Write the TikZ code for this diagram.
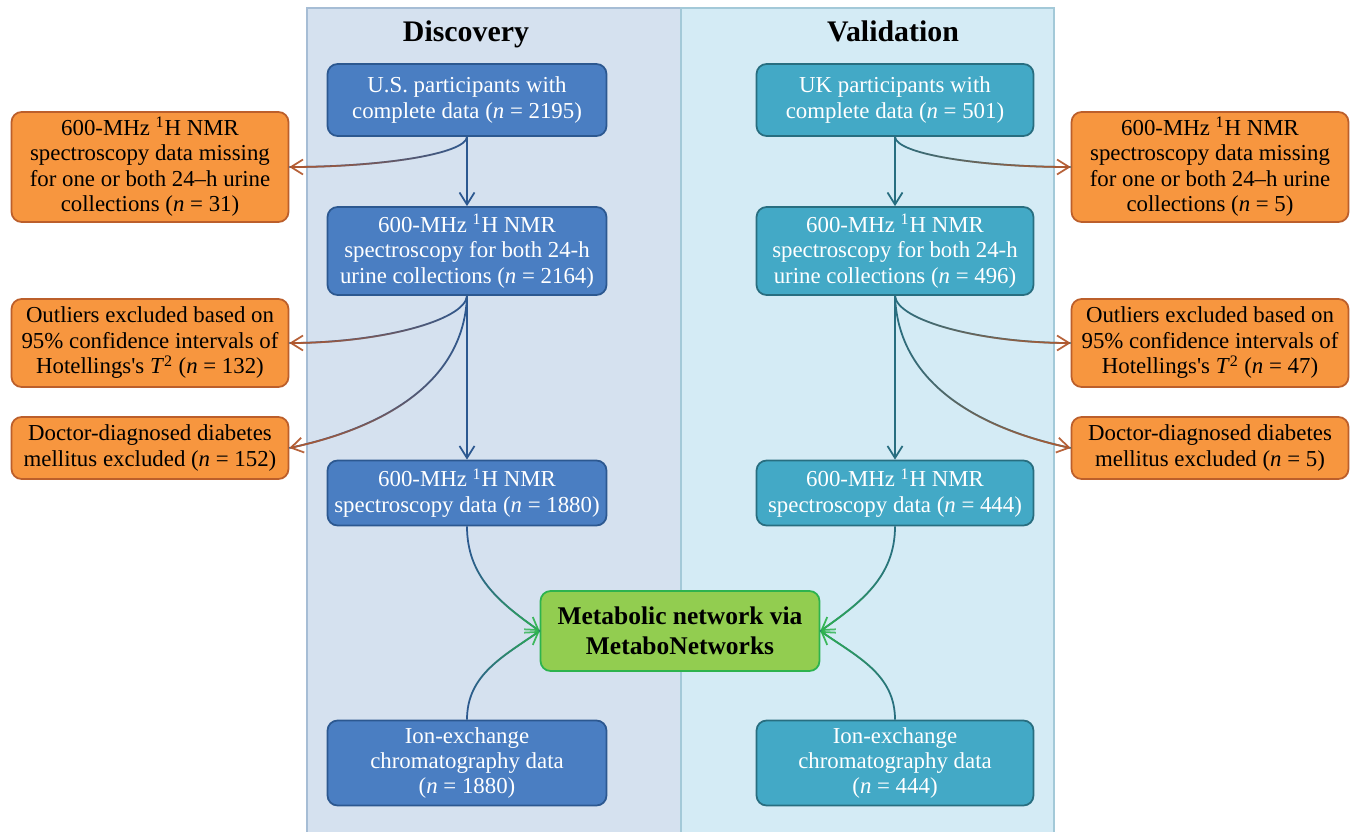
\documentclass[tikz,border=0pt]{standalone}
\usepackage{fontspec}
\setmainfont{Liberation Serif}
\usetikzlibrary{arrows.meta,fadings}

\definecolor{panDfill}{HTML}{D5E1EF}
\definecolor{panDline}{HTML}{A6BDD5}
\definecolor{panVfill}{HTML}{D4EBF5}
\definecolor{panVline}{HTML}{A3C9D8}
\definecolor{dfill}{HTML}{4A7EC2}
\definecolor{dline}{HTML}{2C5890}
\definecolor{vfill}{HTML}{43A9C6}
\definecolor{vline}{HTML}{286E80}
\definecolor{ofill}{HTML}{F7963F}
\definecolor{oline}{HTML}{BC5F2B}
\definecolor{oarrow}{HTML}{B3592E}
\definecolor{gfill}{HTML}{92CD50}
\definecolor{gline}{HTML}{2DB34E}

% opaque on the named side
\tikzfading[name=opaqueleft, left color=transparent!0, right color=transparent!100]
\tikzfading[name=opaqueright, left color=transparent!100, right color=transparent!0]

\begin{document}
\begin{tikzpicture}[x=0.02cm, y=0.02cm,
    box/.style={rounded corners=0.2cm, line width=1pt, align=center, text=white,
      font=\fontsize{13}{14.5}\selectfont, inner sep=2pt},
    dbox/.style={box, fill=dfill, draw=dline, minimum width=5.58cm},
    vbox/.style={box, fill=vfill, draw=vline, minimum width=5.54cm},
    obox/.style={box, fill=ofill, draw=oline, text=black, minimum width=5.54cm},
    netbox/.style={box, fill=gfill, draw=gline, text=black, minimum width=5.58cm,
      minimum height=1.6cm, font=\fontsize{14.5}{17}\selectfont\bfseries},
    title/.style={anchor=base, font=\fontsize{17}{20}\selectfont\bfseries},
    tip/.style={-{Straight Barb[length=2.4mm, width=3mm]}},
    flowD/.style={draw=dline, line width=1pt, tip},
    flowV/.style={draw=vline, line width=1pt, tip},
    exclD/.style={draw=dline, line width=1pt,
      postaction={draw=oarrow, path fading=opaqueleft, tip}},
    exclV/.style={draw=vline, line width=1pt,
      postaction={draw=oarrow, path fading=opaqueright, tip}},
    joinD/.style={draw=dline, line width=1pt,
      postaction={draw=gline, path fading=opaqueright, tip}},
    joinV/.style={draw=vline, line width=1pt,
      postaction={draw=gline, path fading=opaqueleft, tip}}]

    % Background panels:
    \useasboundingbox (0, 0) rectangle (1361, -831);
    \fill[white] (0, 0) rectangle (1361, -831);
    \draw[fill=panDfill, draw=panDline, line width=1pt] (307, -8) rectangle (681, -840);
    \draw[fill=panVfill, draw=panVline, line width=1pt] (681, -8) rectangle (1054, -840);
    \node[title] (TD) at (466, -42) {Discovery};
    \node[title] (TV) at (893, -42) {Validation};

    % Discovery column:
    \node[dbox, minimum height=1.44cm] (D1) at (467, -100) {U.S. participants with\\complete data (\textit{n} = 2195)};
    \node[dbox, minimum height=1.76cm] (D2) at (467, -251) {600-MHz \textsuperscript{1}H NMR\\spectroscopy for both 24-h\\urine collections (\textit{n} = 2164)};
    \node[dbox, minimum height=1.3cm] (D3) at (467, -493) {600-MHz \textsuperscript{1}H NMR\\spectroscopy data (\textit{n} = 1880)};
    \node[dbox, minimum height=1.7cm] (D4) at (467, -763) {Ion-exchange\\chromatography data\\(\textit{n} = 1880)};

    % Validation column:
    \node[vbox, minimum height=1.44cm] (V1) at (895, -100) {UK participants with\\complete data (\textit{n} = 501)};
    \node[vbox, minimum height=1.76cm] (V2) at (895, -251) {600-MHz \textsuperscript{1}H NMR\\spectroscopy for both 24-h\\urine collections (\textit{n} = 496)};
    \node[vbox, minimum height=1.3cm] (V3) at (895, -493) {600-MHz \textsuperscript{1}H NMR\\spectroscopy data (\textit{n} = 444)};
    \node[vbox, minimum height=1.7cm] (V4) at (895, -763) {Ion-exchange\\chromatography data\\(\textit{n} = 444)};

    % Exclusions:
    \node[obox, minimum height=2.2cm] (L1) at (150, -167) {600-MHz \textsuperscript{1}H NMR\\spectroscopy data missing\\for one or both 24--h urine\\collections (\textit{n} = 31)};
    \node[obox, minimum height=1.76cm] (L2) at (150, -343) {Outliers excluded based on\\95\% confidence intervals of\\Hotellings\textquotesingle s \textit{T}\textsuperscript{2} (\textit{n} = 132)};
    \node[obox, minimum height=1.24cm] (L3) at (150, -448) {Doctor-diagnosed diabetes\\mellitus excluded (\textit{n} = 152)};
    \node[obox, minimum height=2.2cm] (R1) at (1210, -167) {600-MHz \textsuperscript{1}H NMR\\spectroscopy data missing\\for one or both 24--h urine\\collections (\textit{n} = 5)};
    \node[obox, minimum height=1.76cm] (R2) at (1210, -343) {Outliers excluded based on\\95\% confidence intervals of\\Hotellings\textquotesingle s \textit{T}\textsuperscript{2} (\textit{n} = 47)};
    \node[obox, minimum height=1.24cm] (R3) at (1210, -448) {Doctor-diagnosed diabetes\\mellitus excluded (\textit{n} = 5)};

    \node[netbox] (net) at (680, -631) {Metabolic network via\\MetaboNetworks};

    % Arrows:
    \draw[flowD] (D1) -- (D2);
    \draw[flowD] (D2) -- (D3);
    \draw[flowV] (V1) -- (V2);
    \draw[flowV] (V2) -- (V3);
    \draw[exclD] (D1.south) to[out=-95, in=0, out distance=0.35cm, in distance=1.8cm] (L1.east);
    \draw[exclD] (D2.south) to[out=-95, in=0, out distance=0.5cm, in distance=1.8cm] (L2.east);
    \draw[exclD] (D2.south) to[out=-92, in=12, out distance=2cm, in distance=1.4cm] (L3.east);
    \draw[exclV] (V1.south) to[out=-85, in=180, out distance=0.35cm, in distance=1.8cm] (R1.west);
    \draw[exclV] (V2.south) to[out=-85, in=180, out distance=0.5cm, in distance=1.8cm] (R2.west);
    \draw[exclV] (V2.south) to[out=-88, in=168, out distance=2cm, in distance=1.4cm] (R3.west);
    \draw[joinD] (D3.south) to[out=-90, in=145] (net.west);
    \draw[joinD] (D4.north) to[out=90, in=215] (net.west);
    \draw[joinV] (V3.south) to[out=-90, in=35] (net.east);
    \draw[joinV] (V4.north) to[out=90, in=-35] (net.east);
  \end{tikzpicture}
\end{document}
